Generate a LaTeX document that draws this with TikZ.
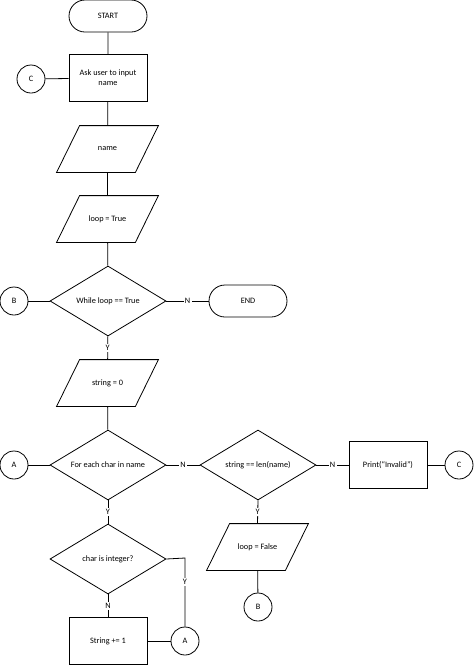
\documentclass[tikz,border=0pt]{standalone}
\usepackage{fontspec}
\setmainfont{Carlito}
\usetikzlibrary{shapes.geometric,shapes.misc}
\begin{document}
\begin{tikzpicture}[x=0.75pt,y=-0.75pt,line width=0.6pt,
 every node/.style={font=\fontsize{6.2}{7.5}\selectfont,align=center},
 term/.style={draw,rounded rectangle,minimum width=58.5pt,minimum height=24pt,inner sep=0pt},
 proc/.style={draw,rectangle,minimum width=58.5pt,minimum height=35.25pt,inner sep=0pt},
 io/.style={rectangle,minimum width=75.75pt,minimum height=34.5pt,inner sep=0pt},
 dec/.style={draw,diamond,aspect=1.66,minimum width=87pt,minimum height=52.5pt,inner sep=0pt},
 con/.style={draw,circle,minimum size=21pt,inner sep=0pt},
 lab/.style={fill=white,inner sep=1pt}]
\useasboundingbox (0,0) rectangle (474,665);
\newcommand{\pgram}[1]{\draw ([xshift=17.25pt]#1.north west)--(#1.north east)--([xshift=-17.25pt]#1.south east)--(#1.south west)--cycle;}
\node[term] (start) at (108,16) {START};
\node[proc] (ask) at (108,78) {Ask user to input\\name};
\node[con] (c1) at (31,79) {C};
\node[io] (name) at (107.5,149) {name}; \pgram{name}
\node[io] (loopt) at (107.5,219) {loop = True}; \pgram{loopt}
\node[dec] (while) at (108,301) {While loop == True};
\node[con] (b1) at (14,301) {B};
\node[term] (end) at (248,301) {END};
\node[io] (str0) at (107.5,383) {string = 0}; \pgram{str0}
\node[dec] (each) at (108,465) {For each char in name};
\node[con] (a1) at (14,465) {A};
\node[dec] (len) at (258,465) {string == len(name)};
\node[proc] (print) at (388,465) {Print(``Invalid'')};
\node[con] (c2) at (459,465) {C};
\node[dec] (int) at (108,559) {char is integer?};
\node[proc] (inc) at (108,641) {String += 1};
\node[con] (a2) at (185,641) {A};
\node[io] (loopf) at (257.5,547) {loop = False}; \pgram{loopf}
\node[con] (b2) at (258,607) {B};
\coordinate (k) at (185,558);
\draw (start)--(ask); \draw (c1)--(ask); \draw (ask)--(name); \draw (name)--(loopt);
\draw (loopt)--(while); \draw (b1)--(while);
\draw (while)--node[lab]{N}(end);
\draw (while)--node[lab,pos=0.5]{Y}(str0);
\draw (str0)--(each); \draw (a1)--(each);
\draw (each)--node[lab]{N}(len);
\draw (len)--node[lab]{N}(print);
\draw (print)--(c2);
\draw (each)--node[lab]{Y}(int);
\draw (len.south)--node[lab]{Y}(loopf.north);
\draw (loopf)--(b2);
\draw (int)--node[lab]{N}(inc);
\draw (inc)--(a2);
\draw (int.east)--(k)--node[lab,pos=0.35]{Y}(a2);
\end{tikzpicture}
\end{document}
